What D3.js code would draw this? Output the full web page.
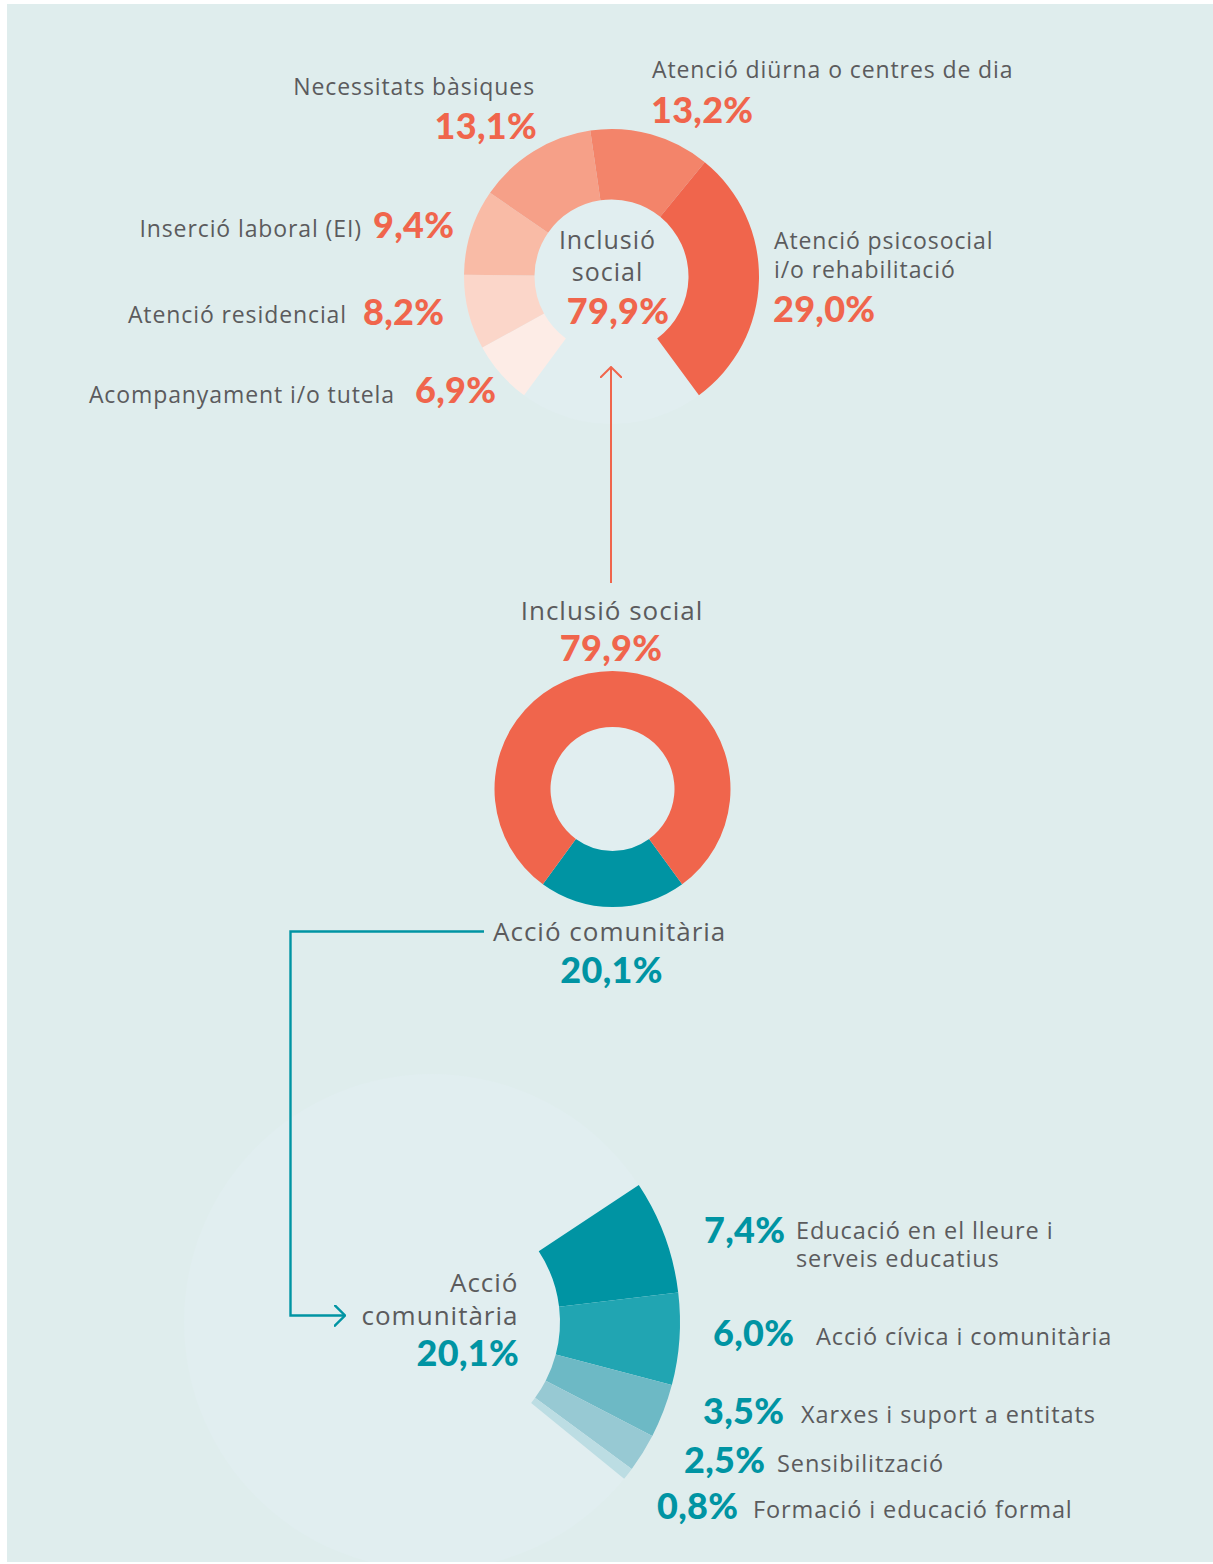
<!DOCTYPE html>
<html>
<head>
<meta charset="utf-8">
<script src="https://cdn.jsdelivr.net/npm/d3@7"></script>
<style>
  html, body { margin: 0; padding: 0; background: #ffffff; }
  svg { display: block; }
</style>
</head>
<body>
<svg id="chart" width="1213" height="1564"></svg>
<script>
// Share of services by area of activity (%)
const areaNames = ["Inclusió social", "Acció comunitària"];
const areaValues = [79.9, 20.1];

// Breakdown of "Inclusió social"
const inclusioNames = [
  "Acompanyament i/o tutela",
  "Atenció residencial",
  "Inserció laboral (EI)",
  "Necessitats bàsiques",
  "Atenció diürna o centres de dia",
  "Atenció psicosocial i/o rehabilitació"
];
const inclusioValues = [6.9, 8.2, 9.4, 13.1, 13.2, 29.0];

// Breakdown of "Acció comunitària"
const accioNames = [
  "Educació en el lleure i serveis educatius",
  "Acció cívica i comunitària",
  "Xarxes i suport a entitats",
  "Sensibilització",
  "Formació i educació formal"
];
const accioValues = [7.4, 6.0, 3.5, 2.5, 0.8];

// ---- styles ----
const BG = "#dfeded";
const DISK = "#e1eef0";
const GREY = "#5b5b5d";
const RED = "#f0654c";
const TEAL = "#0094a3";
const inclusioColors = ["#fdece6", "#fbd6c9", "#f9bba6", "#f6a088", "#f3846a", "#f0654c"];
const accioColors = ["#0094a3", "#21a5b2", "#6db9c5", "#97c9d3", "#bcdde3"];
const LABEL_FONT = "'Open Sans', 'Noto Sans', sans-serif";
const PCT_FONT = "Lato, Roboto, sans-serif";

const fmt = v => d3.format(".1f")(v).replace(".", ",") + "%";
const deg = d => d * Math.PI / 180;

const svg = d3.select("#chart");
const defs = svg.append("defs");

// panel
svg.append("rect")
  .attr("x", 7).attr("y", 4)
  .attr("width", 1206).attr("height", 1558)
  .attr("fill", BG);
defs.append("clipPath").attr("id", "panelClip")
  .append("rect")
  .attr("x", 7).attr("y", 4)
  .attr("width", 1206).attr("height", 1558);

const plot = svg.append("g").attr("clip-path", "url(#panelClip)");
const marks = plot.append("g");
const links = plot.append("g");
const texts = plot.append("g");

// arrow markers
function chevron(id, color, w) {
  defs.append("marker")
    .attr("id", id)
    .attr("viewBox", "0 0 12 22")
    .attr("refX", 11).attr("refY", 11)
    .attr("markerUnits", "userSpaceOnUse")
    .attr("markerWidth", 12).attr("markerHeight", 22)
    .attr("orient", "auto")
    .append("path")
    .attr("d", "M0,0 L11,11 L0,22")
    .attr("fill", "none")
    .attr("stroke", color)
    .attr("stroke-width", w);
}
chevron("arrRed", RED, 2);
chevron("arrTeal", TEAL, 2.4);

function label(x, y, text, opts) {
  return texts.append("text")
    .attr("x", x).attr("y", y)
    .attr("text-anchor", opts.anchor || "start")
    .attr("font-family", opts.bold ? PCT_FONT : LABEL_FONT)
    .attr("font-weight", opts.bold ? 900 : 400)
    .attr("font-size", opts.size)
    .attr("letter-spacing", opts.spacing)
    .attr("fill", opts.color)
    .text(text);
}
const nameStyle = { size: 23, spacing: "0.9px", color: GREY };
const bigName = { size: 26, spacing: "1px", color: GREY };
const pctStyle = (color) => ({ size: 36, spacing: "0.3px", color, bold: true });

// split a name into lines after `n` words
function splitName(name, n) {
  if (!n) return [name];
  const w = name.split(" ");
  return [w.slice(0, n).join(" "), w.slice(n).join(" ")];
}

// ================= Inclusió social breakdown (top donut) =================
{
  const cx = 611.5, cy = 276.5, rIn = 77, rOut = 147.5;
  const g = marks.append("g").attr("transform", `translate(${cx},${cy})`);
  const rest = 100 - d3.sum(inclusioValues);
  const start = Math.PI - rest / 100 * Math.PI;
  const data = [{ key: "rest", value: rest }]
    .concat(inclusioValues.map((v, i) => ({ key: inclusioNames[i], value: v, i })));
  const arcs = d3.pie().sort(null).value(d => d.value)
    .startAngle(start).endAngle(start + 2 * Math.PI)(data);
  const arc = d3.arc().innerRadius(rIn).outerRadius(rOut);

  g.append("circle").attr("r", rOut).attr("fill", DISK);
  g.selectAll("path.seg")
    .data(arcs.filter(d => d.data.key !== "rest"))
    .join("path")
    .attr("class", "seg")
    .attr("d", arc)
    .attr("fill", d => inclusioColors[d.data.i]);

  // centre caption
  label(607.5, 248.5, "Inclusió", { ...bigName, size: 25, anchor: "middle" });
  label(607.5, 281, "social", { ...bigName, size: 25, anchor: "middle" });
  label(618, 323.5, fmt(areaValues[0]), { ...pctStyle(RED), anchor: "middle" });

  // label layout, one entry per category
  const layout = [
    { nx: 395, ny: 403, na: "end", px: 415, py: 403, pa: "start" },
    { nx: 347, ny: 323, na: "end", px: 363, py: 325, pa: "start" },
    { nx: 362, ny: 237, na: "end", px: 373, py: 238, pa: "start" },
    { nx: 535, ny: 95, na: "end", px: 537, py: 139, pa: "end" },
    { nx: 652, ny: 78, na: "start", px: 651, py: 123, pa: "start" },
    { nx: 774, ny: 248.5, na: "start", px: 773, py: 322, pa: "start", brk: 2, lh: 29.5 }
  ];
  layout.forEach((L, i) => {
    splitName(inclusioNames[i], L.brk).forEach((line, k) =>
      label(L.nx, L.ny + k * (L.lh || 0), line, { ...nameStyle, anchor: L.na }));
    label(L.px, L.py, fmt(inclusioValues[i]), { ...pctStyle(RED), anchor: L.pa });
  });
}

// ================= Overall split (middle donut) =================
{
  const cx = 612.5, cy = 789, rIn = 62, rOut = 118;
  const g = marks.append("g").attr("transform", `translate(${cx},${cy})`);
  const order = [1, 0]; // Acció comunitària centred at the bottom, then Inclusió social
  const share = areaValues[1] / 100;
  const start = Math.PI - share * Math.PI;
  const arcs = d3.pie().sort(null).value(i => areaValues[i])
    .startAngle(start).endAngle(start + 2 * Math.PI)(order);
  const arc = d3.arc().innerRadius(rIn).outerRadius(rOut);
  g.append("circle").attr("r", rOut).attr("fill", DISK);
  g.selectAll("path")
    .data(arcs)
    .join("path")
    .attr("d", arc)
    .attr("fill", d => d.data === 0 ? RED : TEAL);

  label(612, 619.5, areaNames[0], { ...bigName, anchor: "middle" });
  label(611, 661, fmt(areaValues[0]), { ...pctStyle(RED), anchor: "middle" });
  label(493, 941, areaNames[1], { ...bigName, anchor: "start" });
  label(611.5, 983, fmt(areaValues[1]), { ...pctStyle(TEAL), anchor: "middle" });
}

// ================= Acció comunitària breakdown (bottom fan) =================
{
  const cx = 432, cy = 1322, rIn = 128, rOut = 248;
  const g = marks.append("g").attr("transform", `translate(${cx},${cy})`);
  const rest = 100 - d3.sum(accioValues);
  const start = deg(56.5);
  const data = accioValues.map((v, i) => ({ key: accioNames[i], value: v, i }))
    .concat([{ key: "rest", value: rest }]);
  const arcs = d3.pie().sort(null).value(d => d.value)
    .startAngle(start).endAngle(start + 2 * Math.PI)(data);
  const arc = d3.arc().innerRadius(rIn).outerRadius(rOut);

  g.append("circle").attr("r", rOut).attr("fill", DISK);
  g.selectAll("path.seg")
    .data(arcs.filter(d => d.data.key !== "rest"))
    .join("path")
    .attr("class", "seg")
    .attr("d", arc)
    .attr("fill", d => accioColors[d.data.i]);

  // centre caption
  label(518.5, 1292, "Acció", { ...bigName, anchor: "end" });
  label(518.5, 1324.5, "comunitària", { ...bigName, anchor: "end" });
  label(519, 1366, fmt(areaValues[1]), { ...pctStyle(TEAL), anchor: "end" });

  const layout = [
    { px: 704, py: 1243, nx: 796, ny: 1238.5, brk: 5, lh: 28.5 },
    { px: 713, py: 1346, nx: 816, ny: 1344.5 },
    { px: 703, py: 1423.5, nx: 801, ny: 1423 },
    { px: 684, py: 1473, nx: 777, ny: 1472 },
    { px: 657, py: 1518.5, nx: 753, ny: 1518 }
  ];
  layout.forEach((L, i) => {
    label(L.px, L.py, fmt(accioValues[i]), { ...pctStyle(TEAL), anchor: "start" });
    splitName(accioNames[i], L.brk).forEach((line, k) =>
      label(L.nx, L.ny + k * (L.lh || 0), line, { ...nameStyle, size: 23.5, anchor: "start" }));
  });
}

// connectors between the charts
links.append("line")
  .attr("x1", 611).attr("y1", 583)
  .attr("x2", 611).attr("y2", 367)
  .attr("stroke", RED).attr("stroke-width", 2)
  .attr("marker-end", "url(#arrRed)");

links.append("path")
  .attr("d", "M484,931.5 H290.5 V1315.5 H345")
  .attr("fill", "none")
  .attr("stroke", TEAL).attr("stroke-width", 2.4)
  .attr("marker-end", "url(#arrTeal)");
</script>
</body>
</html>
